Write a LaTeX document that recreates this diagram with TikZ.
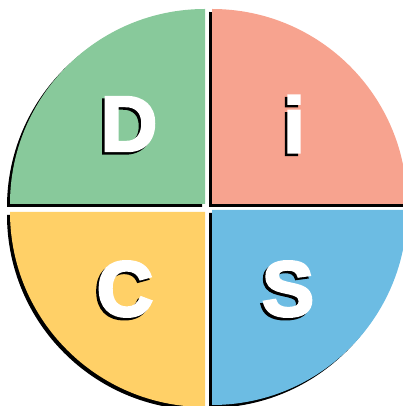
\documentclass[tikz,border=0pt]{standalone}
\usepackage{fontspec}
\setmainfont{Liberation Sans}
\newfontfamily\heavyfont[FakeBold=3.5]{Liberation Sans}
\usepackage{tikz}
\usetikzlibrary{positioning}
\definecolor{Dgreen}{HTML}{88C99B}
\definecolor{Ired}{HTML}{F7A38F}
\definecolor{Syblue}{HTML}{6CBCE3}
\definecolor{Cyellow}{HTML}{FFD067}

\begin{document}
\begin{tikzpicture}[x=1pt,y=1pt,
    shade/.style={fill=black},
    letter/.style={inner sep=0pt,text=white,font=\fontsize{78}{78}\heavyfont\bfseries},
    lettershade/.style={inner sep=0pt,text=black,font=\fontsize{78}{78}\heavyfont\bfseries}
  ]
    \useasboundingbox (0,0) rectangle (403,406);
    % shadows of the four quarters
    \fill[shade] (202,199) -- ++(-195,0) arc[start angle=180,end angle=90,radius=195] -- cycle;
    \fill[shade] (209,199) -- ++(0,195) arc[start angle=90,end angle=0,radius=195] -- cycle;
    \fill[shade] (209,193) -- ++(0,-195) arc[start angle=270,end angle=360,radius=195] -- cycle;
    \fill[shade] (202,191) -- ++(-195,0) arc[start angle=180,end angle=270,radius=195] -- cycle;
    % quarters
    \fill[Dgreen] (205,202) -- ++(-195,0) arc[start angle=180,end angle=90,radius=195] -- cycle;
    \fill[Ired] (212,202) -- ++(0,195) arc[start angle=90,end angle=0,radius=195] -- cycle;
    \fill[Syblue] (212,196) -- ++(0,-195) arc[start angle=270,end angle=360,radius=195] -- cycle;
    \fill[Cyellow] (205,194) -- ++(-195,0) arc[start angle=180,end angle=270,radius=195] -- cycle;
    % letters
    \node[lettershade] (Dshade) at (126.5,279.5) {D};
    \node[letter] (D) at (129,282) {D};
    \node[lettershade] (ishade) at (291.5,279.5) {i};
    \node[letter] (i) at (294,282) {i};
    \node[lettershade] (Cshade) at (122.5,114.5) {C};
    \node[letter] (C) at (125,117) {C};
    \node[lettershade] (Sshade) at (285.5,114.5) {S};
    \node[letter] (S) at (288,117) {S};
  \end{tikzpicture}
\end{document}
